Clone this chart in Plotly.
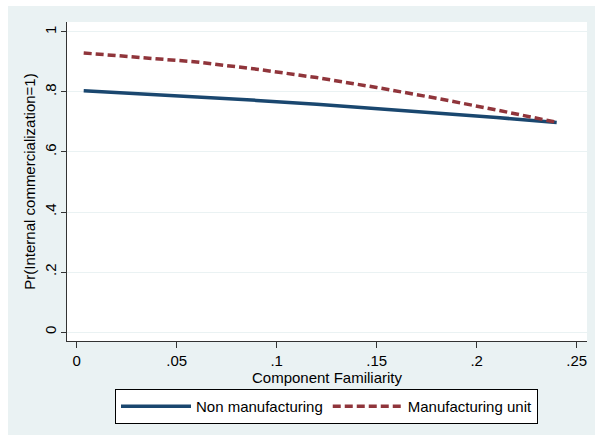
import plotly.graph_objects as go

# Predicted probabilities by component familiarity
familiarity = [0.0035, 0.03, 0.06, 0.09, 0.12, 0.15, 0.18, 0.21, 0.24]
non_manufacturing = [0.804, 0.795, 0.784, 0.772, 0.759, 0.745, 0.730, 0.715, 0.698]
manufacturing_unit = [0.930, 0.917, 0.900, 0.876, 0.848, 0.815, 0.779, 0.740, 0.699]

x_tickvals = [0, 0.05, 0.10, 0.15, 0.20, 0.25]
x_ticktext = ["0", ".05", ".1", ".15", ".2", ".25"]
y_tickvals = [0, 0.2, 0.4, 0.6, 0.8, 1.0]
y_ticktext = ["0", ".2", ".4", ".6", ".8", "1"]

W, H = 595, 435
L, R, T, B = 67, 8, 22, 94
pw, ph = W - L - R, H - T - B


def px_x(p):
    return (p - L) / pw


def px_y(p):
    return (H - B - p) / ph


FONT = "Arial, Liberation Sans, sans-serif"
BG = "#EAF2F3"
FS = 15

fig = go.Figure()
fig.add_trace(go.Scatter(
    x=familiarity, y=non_manufacturing, mode="lines", name="Non manufacturing",
    line=dict(color="#1A476F", width=3.5),
))
fig.add_trace(go.Scatter(
    x=familiarity, y=manufacturing_unit, mode="lines", name="Manufacturing unit",
    line=dict(color="#90353B", width=3.5, dash="8px,4px"),
))

# Outer graph region and white plot region
fig.add_shape(type="rect", xref="paper", yref="paper", layer="below",
              x0=px_x(8), x1=px_x(W), y0=px_y(H), y1=px_y(6),
              fillcolor=BG, line=dict(width=0))
fig.add_shape(type="rect", xref="paper", yref="paper", layer="below",
              x0=0, x1=1, y0=0, y1=1, fillcolor="white", line=dict(width=0))

fig.update_layout(
    width=W, height=H,
    margin=dict(l=L, r=R, t=T, b=B, autoexpand=False),
    paper_bgcolor="white",
    plot_bgcolor="rgba(0,0,0,0)",
    font=dict(family=FONT, size=FS, color="black"),
    showlegend=True,
    legend=dict(
        orientation="h", x=px_x(326.5), xanchor="center",
        y=px_y(389), yanchor="top",
        bgcolor="white", bordercolor="black", borderwidth=1,
        font=dict(size=FS), itemwidth=70,
    ),
)
fig.update_xaxes(
    range=[-0.00485, 0.25515], tickvals=x_tickvals, ticktext=x_ticktext,
    showgrid=False, zeroline=False, showline=True, linecolor="#333333", linewidth=1,
    ticks="outside", ticklen=6, tickcolor="#333333",
    title=dict(text="Component Familiarity", standoff=1, font=dict(size=FS)),
    tickfont=dict(size=FS),
)
fig.update_yaxes(
    range=[-0.03, 1.0333], tickvals=y_tickvals, ticktext=y_ticktext,
    showgrid=True, gridcolor=BG, gridwidth=1, zeroline=False,
    showline=True, linecolor="#333333", linewidth=1,
    ticks="outside", ticklen=5, tickcolor="#333333", tickangle=-90,
    ticklabelstandoff=-1,
    title=dict(text="Pr(Internal commercialization=1)", standoff=2, font=dict(size=FS)),
    tickfont=dict(size=FS),
)

fig.write_html("out.html")
